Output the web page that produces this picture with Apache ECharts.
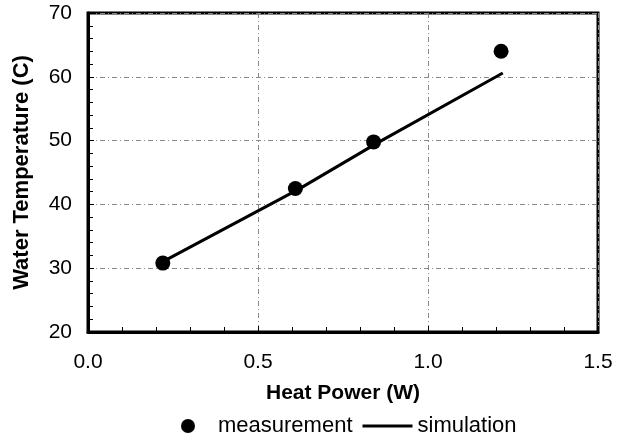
<!DOCTYPE html>
<html>
<head>
<meta charset="utf-8">
<script src="https://cdn.jsdelivr.net/npm/echarts@6/dist/echarts.min.js"></script>
<style>html,body{margin:0;padding:0;background:#fff}#c{width:624px;height:440px}</style>
</head>
<body>
<div id="c"></div>
<script>
const measPower = [0.22, 0.61, 0.84, 1.215];
const measTemp = [30.8, 42.5, 49.8, 64.0];
const simPower = [0.23, 0.62, 0.85, 1.22];
const simTemp = [31.3, 42.4, 49.6, 60.6];
const xName = 'Heat Power (W)';
const yName = 'Water Temperature (C)';
const seriesNames = ['measurement', 'simulation'];

const font = '"Liberation Sans", Arial, sans-serif';
const grid = {color: '#888', type: [5, 3, 1, 3], width: 1};
const chart = echarts.init(document.getElementById('c'), null, {renderer: 'canvas'});
chart.setOption({
  animation: false,
  textStyle: {fontFamily: font},
  grid: {left: 88, right: 26, top: 13, bottom: 108, show: true, borderColor: '#000', borderWidth: 3, backgroundColor: 'transparent'},
  legend: {
    top: 410, left: 176, itemWidth: 50, itemHeight: 14, itemGap: 10,
    textStyle: {fontFamily: font, fontSize: 22, color: '#000'},
    data: [
      {name: seriesNames[0], icon: 'circle', itemStyle: {color: '#000', opacity: 1}},
      {name: seriesNames[1], icon: 'path://M0,0M0,5.5L50,5.5L50,8.5L0,8.5ZM50,14', itemStyle: {color: '#000', borderWidth: 0}, lineStyle: {width: 0}}
    ]
  },
  xAxis: {
    type: 'value', min: 0, max: 1.5, interval: 0.5,
    name: xName, nameLocation: 'middle', nameGap: 51,
    nameTextStyle: {fontFamily: font, fontSize: 21, fontWeight: 'bold', color: '#000'},
    axisLine: {show: true, lineStyle: {color: '#000', width: 3}},
    axisTick: {show: true, inside: true, length: 6, lineStyle: {color: '#000', width: 1}},
    minorTick: {show: true, splitNumber: 5, length: 5, lineStyle: {color: '#000', width: 1}},
    axisLabel: {fontFamily: font, fontSize: 21, color: '#000', margin: 20, formatter: v => v.toFixed(1)},
    splitLine: {show: true, lineStyle: grid}
  },
  yAxis: {
    type: 'value', min: 20, max: 70, interval: 10,
    name: yName, nameLocation: 'middle', nameGap: 55,
    nameTextStyle: {fontFamily: font, fontSize: 22, fontWeight: 'bold', color: '#000'},
    axisLine: {show: true, lineStyle: {color: '#000', width: 3}},
    axisTick: {show: true, inside: true, length: 6, lineStyle: {color: '#000', width: 1}},
    minorTick: {show: true, splitNumber: 5, length: 5, lineStyle: {color: '#000', width: 1}},
    axisLabel: {fontFamily: font, fontSize: 21, color: '#000', margin: 16},
    splitLine: {show: true, lineStyle: grid}
  },
  series: [
    {
      name: seriesNames[1], type: 'line', symbol: 'none', z: 2,
      lineStyle: {color: '#000', width: 3},
      itemStyle: {color: '#000'},
      data: simPower.map((x, i) => [x, simTemp[i]])
    },
    {
      name: seriesNames[0], type: 'scatter', symbol: 'circle', symbolSize: 15, z: 3,
      itemStyle: {color: '#000', opacity: 1},
      data: measPower.map((x, i) => [x, measTemp[i]])
    }
  ]
});
</script>
</body>
</html>
